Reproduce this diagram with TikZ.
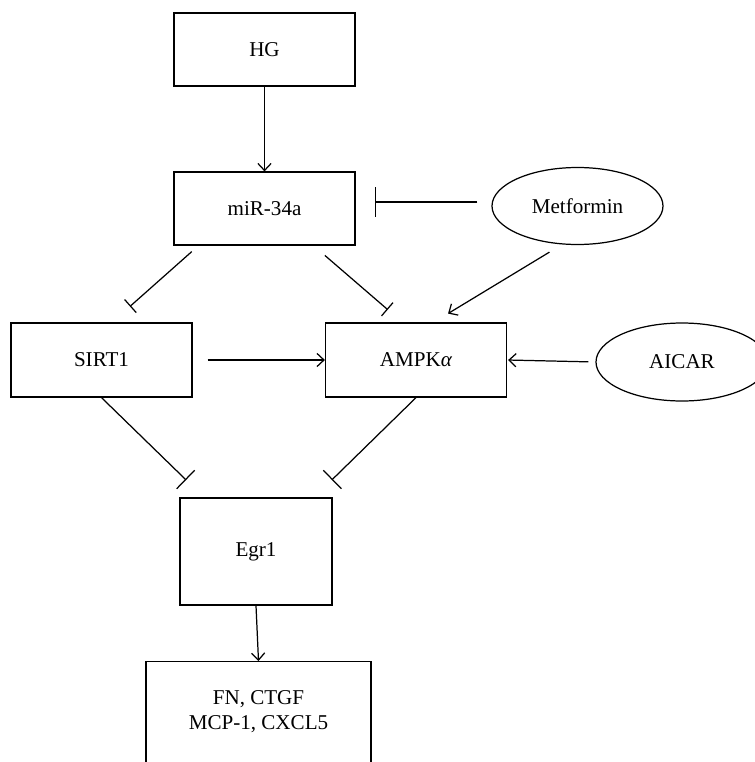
\documentclass[tikz,border=0pt]{standalone}
\usepackage{fontspec}
\setmainfont{Liberation Serif}
\usepackage{tikz}
\usetikzlibrary{arrows.meta,shapes.geometric}

\begin{document}
\begin{tikzpicture}[
    line width=0.7pt,
    font=\fontsize{12}{14.4}\selectfont,
    box/.style={draw, rectangle, inner sep=0pt, minimum width=3.62cm, minimum height=1.46cm},
    drug/.style={draw, ellipse, inner sep=0pt, minimum width=3.42cm, minimum height=1.54cm},
    act/.style={-{Straight Barb[length=4pt,width=7.5pt]}},
    inh/.style={-{Bar[width=#1]}},
    inh/.default=10pt
]
    % Frame
    \useasboundingbox (0,0) rectangle (15.1,-15.24);
    \clip (0,0) rectangle (15.1,-15.24);

    % Top of the pathway
    \node[box] (hg) at (5.29,-0.99) {HG};
    \node[box] (mir) at (5.29,-4.17) {miR-34a};
    \node[drug] (met) at (11.55,-4.12) {Metformin};

    % Middle row
    \node[box, minimum height=1.48cm] (sirt) at (2.03,-7.2) {SIRT1};
    \node[box, minimum height=1.48cm] (ampk) at (8.32,-7.2) {AMPK\textit{α}};
    \node[drug, minimum width=3.44cm, minimum height=1.56cm] (aicar) at (13.64,-7.24) {AICAR};

    % Bottom
    \node[box, minimum width=3.04cm, minimum height=2.14cm] (egr) at (5.12,-11.03) {Egr1};
    \node[draw, anchor=north, align=center, minimum width=4.5cm, inner xsep=0pt, inner ysep=16.4pt, text depth=3cm] (out) at (5.17,-13.22) {FN, CTGF\\MCP-1, CXCL5};

    % Connectors
    \draw[act] (hg) -- (mir);
    \draw[inh=17pt, shorten <=0.28cm, shorten >=0.38cm] ([yshift=0.08cm]met.west) -- ([yshift=0.08cm]met.west -| mir.east);
    \draw[inh, shorten <=0.18cm, shorten >=0.48cm] ([xshift=-1.32cm]mir.south) -- ([xshift=0.21cm]sirt.north);
    \draw[inh, shorten <=0.3cm, shorten >=0.39cm] ([xshift=0.98cm]mir.south) -- ([xshift=-0.27cm]ampk.north);
    \draw[act, shorten <=0.27cm, shorten >=0.34cm] ([xshift=-0.33cm]met.south) -- ([xshift=0.35cm]ampk.north);
    \draw[act, shorten <=0.3cm] (sirt.east) -- (ampk.west);
    \draw[act, shorten <=0.14cm, shorten >=0.02cm] (aicar.west) -- (ampk.east);
    \draw[inh=14.7pt, shorten >=0.5cm] (sirt.south) -- ([xshift=-1.04cm]egr.north);
    \draw[inh=14.7pt, shorten >=0.5cm] (ampk.south) -- ([xshift=1.16cm]egr.north);
    \draw[act] (egr.south) -- (out.north);
\end{tikzpicture}
\end{document}
